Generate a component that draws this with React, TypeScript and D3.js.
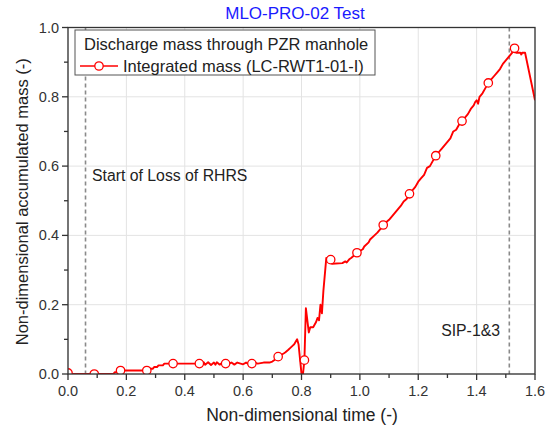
import React from "react";
import * as d3 from "d3";

// Integrated discharge mass through the PZR manhole (non-dimensional)
const lineTime = [
  0.0, 0.01, 0.155, 0.16, 0.17, 0.172, 0.27, 0.28, 0.29, 0.295, 0.305, 0.31, 0.325, 0.33,
  0.45, 0.46, 0.465, 0.47, 0.48, 0.49, 0.50, 0.505, 0.51, 0.52, 0.53, 0.545, 0.56, 0.57,
  0.58, 0.60, 0.61, 0.62, 0.64, 0.65, 0.67, 0.69, 0.70, 0.71, 0.715, 0.725, 0.73, 0.74,
  0.745, 0.755, 0.76, 0.77, 0.775, 0.785, 0.79, 0.80, 0.805, 0.815, 0.825, 0.83, 0.84,
  0.85, 0.855, 0.86, 0.865, 0.87, 0.875, 0.885, 0.895, 0.905, 0.94, 0.95, 0.955, 0.965,
  0.97, 0.98, 1.0, 1.01, 1.015, 1.03, 1.035, 1.05, 1.06, 1.07, 1.09, 1.1, 1.12, 1.125,
  1.14, 1.15, 1.16, 1.18, 1.19, 1.2, 1.21, 1.22, 1.23, 1.24, 1.25, 1.27, 1.28, 1.29, 1.3,
  1.31, 1.32, 1.33, 1.34, 1.36, 1.37, 1.38, 1.39, 1.395, 1.4, 1.405, 1.41, 1.42, 1.43,
  1.45, 1.46, 1.47, 1.48, 1.49, 1.5, 1.51, 1.52, 1.535, 1.55, 1.553, 1.556, 1.566, 1.6,
];
const lineMass = [
  0.003, 0.0, 0.0, 0.005, 0.005, 0.01, 0.01, 0.015, 0.015, 0.02, 0.02, 0.025, 0.025, 0.03,
  0.03, 0.026, 0.034, 0.027, 0.034, 0.026, 0.033, 0.027, 0.034, 0.027, 0.033, 0.028, 0.033,
  0.027, 0.033, 0.028, 0.033, 0.028, 0.033, 0.03, 0.033, 0.033, 0.036, 0.042, 0.045, 0.052,
  0.055, 0.06, 0.063, 0.07, 0.074, 0.082, 0.086, 0.1, 0.085, 0.0, 0.0, 0.19, 0.12, 0.135,
  0.135, 0.15, 0.162, 0.155, 0.2, 0.175, 0.24, 0.335, 0.325, 0.318, 0.32, 0.325, 0.322,
  0.332, 0.335, 0.342, 0.355, 0.36, 0.368, 0.38, 0.388, 0.4, 0.408, 0.418, 0.438, 0.445,
  0.465, 0.47, 0.485, 0.498, 0.505, 0.53, 0.54, 0.555, 0.565, 0.575, 0.595, 0.6, 0.615,
  0.64, 0.65, 0.66, 0.67, 0.68, 0.7, 0.705, 0.72, 0.74, 0.75, 0.765, 0.775, 0.785, 0.79,
  0.78, 0.8, 0.81, 0.825, 0.85, 0.86, 0.87, 0.88, 0.895, 0.905, 0.915, 0.925, 0.927,
  0.927, 0.922, 0.927, 0.927, 0.79,
];

// Symbol positions along the same series
const markerTime = [
  0.0, 0.09, 0.18, 0.27, 0.36, 0.45, 0.54, 0.63, 0.72, 0.81, 0.9, 0.99, 1.08, 1.17, 1.26,
  1.35, 1.44, 1.53,
];
const markerMass = [
  0.003, 0.0, 0.01, 0.01, 0.03, 0.03, 0.03, 0.03, 0.05, 0.04, 0.33, 0.35, 0.43, 0.52, 0.63,
  0.73, 0.84, 0.94,
];

// Event markers
const eventTime = [0.06, 1.512];

const xTicks = [0, 0.2, 0.4, 0.6, 0.8, 1.0, 1.2, 1.4, 1.6];
const yTicks = [0, 0.2, 0.4, 0.6, 0.8, 1.0];
const xMinor = [0.1, 0.3, 0.5, 0.7, 0.9, 1.1, 1.3, 1.5];
const yMinor = [0.1, 0.3, 0.5, 0.7, 0.9];

const W = 552;
const H = 432;
const left = 68;
const right = 535;
const top = 27.5;
const bottom = 374;

export default function App() {
  const x = d3.scaleLinear().domain([0, 1.6]).range([left, right]);
  const y = d3.scaleLinear().domain([0, 1.0]).range([bottom, top]);

  const points = lineTime
    .map((t, i) => [t, lineMass[i]] as [number, number])
    .concat(markerTime.map((t, i) => [t, markerMass[i]] as [number, number]))
    .sort((a, b) => a[0] - b[0]);

  const line = d3
    .line<[number, number]>()
    .x((d) => x(d[0]))
    .y((d) => y(d[1]));

  const font = "'Liberation Sans', Arial, sans-serif";
  const tickColor = "#333";
  const red = "#ff0000";

  return (
    <svg
      width={W}
      height={H}
      style={{ position: "absolute", left: 0, top: 0, background: "#fff" }}
      fontFamily={font}
    >
      <defs>
        <clipPath id="plot">
          <rect x={left} y={top} width={right - left} height={bottom - top} />
        </clipPath>
      </defs>

      {/* grid */}
      {xTicks.map((t) => (
        <line key={"gx" + t} x1={x(t)} x2={x(t)} y1={top} y2={bottom} stroke="#e3e3e3" strokeWidth={1} />
      ))}
      {yTicks.map((t) => (
        <line key={"gy" + t} x1={left} x2={right} y1={y(t)} y2={y(t)} stroke="#e3e3e3" strokeWidth={1} />
      ))}

      {/* event lines */}
      {eventTime.map((t) => (
        <line
          key={"ev" + t}
          x1={x(t)}
          x2={x(t)}
          y1={top}
          y2={bottom}
          stroke="#8a8a8a"
          strokeWidth={1.6}
          strokeDasharray="4,3"
        />
      ))}
      <text x={92} y={181} fontSize={15.8} fill="#222">
        Start of Loss of RHRS
      </text>
      <text x={500} y={336} fontSize={15.8} fill="#222" textAnchor="end">
        SIP-1&amp;3
      </text>

      {/* series */}
      <g clipPath="url(#plot)">
        <path d={line(points) || ""} fill="none" stroke={red} strokeWidth={1.9} strokeLinejoin="round" />
        {markerTime.map((t, i) => (
          <circle key={"m" + t} cx={x(t)} cy={y(markerMass[i])} r={4.2} fill="#fff" stroke={red} strokeWidth={1.3} />
        ))}
      </g>

      {/* frame */}
      <rect x={left} y={top} width={right - left} height={bottom - top} fill="none" stroke="#333" strokeWidth={1.3} />

      {/* x axis ticks */}
      {xTicks.map((t) => (
        <g key={"xt" + t}>
          <line x1={x(t)} x2={x(t)} y1={bottom} y2={bottom + 6} stroke="#333" strokeWidth={1.3} />
          <text x={x(t)} y={bottom + 22} fontSize={14.5} fill={tickColor} textAnchor="middle">
            {t.toFixed(1)}
          </text>
        </g>
      ))}
      {xMinor.map((t) => (
        <line key={"xm" + t} x1={x(t)} x2={x(t)} y1={bottom} y2={bottom + 4} stroke="#333" strokeWidth={1.3} />
      ))}

      {/* y axis ticks */}
      {yTicks.map((t) => (
        <g key={"yt" + t}>
          <line x1={left - 6} x2={left} y1={y(t)} y2={y(t)} stroke="#333" strokeWidth={1.3} />
          <text x={left - 9} y={y(t) + 5} fontSize={14.5} fill={tickColor} textAnchor="end">
            {t.toFixed(1)}
          </text>
        </g>
      ))}
      {yMinor.map((t) => (
        <line key={"ym" + t} x1={left - 4} x2={left} y1={y(t)} y2={y(t)} stroke="#333" strokeWidth={1.3} />
      ))}

      {/* axis titles */}
      <text x={302} y={421} fontSize={17.5} fill="#222" textAnchor="middle">
        Non-dimensional time (-)
      </text>
      <text
        transform={`translate(28, ${(top + bottom) / 2 + 1}) rotate(-90)`}
        fontSize={16.5}
        fill="#222"
        textAnchor="middle"
      >
        Non-dimensional accumulated mass (-)
      </text>

      {/* title */}
      <text x={295} y={19} fontSize={17} fill="#1a1aff" textAnchor="middle">
        MLO-PRO-02 Test
      </text>

      {/* legend */}
      <rect x={75} y={30} width={300} height={45} fill="#fff" stroke="#555" strokeWidth={1} />
      <text x={84} y={50} fontSize={16.5} fill="#222">
        Discharge mass through PZR manhole
      </text>
      <line x1={80} x2={118} y1={66} y2={66} stroke={red} strokeWidth={1.6} />
      <circle cx={99} cy={66} r={4.2} fill="#fff" stroke={red} strokeWidth={1.3} />
      <text x={123} y={72} fontSize={16.5} fill="#222">
        Integrated mass (LC-RWT1-01-I)
      </text>
    </svg>
  );
}
